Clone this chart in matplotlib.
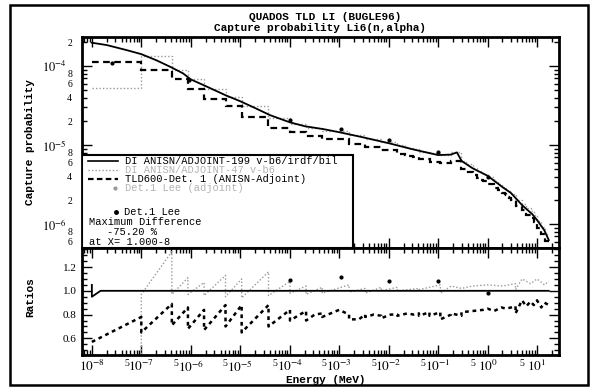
import numpy as np
import matplotlib
matplotlib.use("Agg")
import matplotlib.pyplot as plt
from matplotlib.patches import Rectangle
from matplotlib.ticker import LogLocator, FuncFormatter, MultipleLocator

plt.rcParams["mathtext.fontset"] = "stix"
MONO = "Liberation Mono"
SERIF = "Liberation Serif"

# ---------------------------------------------------------------------------
# Data
# ---------------------------------------------------------------------------

# BUGLE-96 group boundaries used on the plot (MeV)
GROUP_EDGES = [1.0e-8, 1.0e-7, 4.14e-7, 8.764e-7, 1.855e-6, 5.043e-6, 1.068e-5,
               3.727e-5, 1.013e-4, 2.144e-4, 4.540e-4, 1.585e-3, 3.355e-3,
               7.102e-3, 1.503e-2, 2.188e-2, 2.418e-2, 2.606e-2, 3.183e-2,
               4.087e-2, 6.738e-2, 0.1111, 0.1832, 0.2972, 0.3688, 0.4979,
               0.6081, 0.7427, 0.8209, 1.003, 1.353, 1.653, 1.920, 2.231, 2.346,
               2.365, 2.466, 2.725, 3.012, 3.679, 4.966, 6.065, 7.408, 8.607,
               10.0, 12.21, 14.19, 17.33]

# continuous response (solid)
SOLID_E = [1e-8, 2e-8, 5e-8, 1e-7, 2e-7, 4e-7, 7e-7, 1e-6, 2e-6, 5e-6, 1e-5,
           2e-5, 4e-5, 1e-4, 2e-4, 5e-4, 1e-3, 3e-3, 1e-2, 3e-2, 0.1, 0.18,
           0.24, 0.3, 0.5, 1.0, 2.0, 3.0, 5.0, 8.0, 10.0, 14.0, 17.3]
SOLID_P = [1.98e-4, 1.85e-4, 1.60e-4, 1.42e-4, 1.19e-4, 9.7e-5, 8.1e-5, 6.8e-5,
           5.6e-5, 4.3e-5, 3.6e-5, 2.95e-5, 2.4e-5, 1.95e-5, 1.74e-5, 1.59e-5,
           1.46e-5, 1.26e-5, 1.06e-5, 8.9e-6, 7.5e-6, 7.6e-6, 8.1e-6, 6.3e-6,
           5.1e-6, 4.1e-6, 2.95e-6, 2.47e-6, 1.74e-6, 1.34e-6, 1.13e-6, 8.4e-7,
           6.3e-7]

# TLD600-Det. 1 (ANISN-Adjoint), group-wise (black dashed)
TLD_GROUP = [1.12e-4, 8.9e-5, 6.8e-5, 5.1e-5, 3.8e-5, 3.1e-5, 2.25e-5, 1.67e-5,
             1.47e-5, 1.31e-5, 1.20e-5, 1.04e-5, 9.5e-6, 8.6e-6, 7.8e-6, 7.6e-6,
             7.5e-6, 7.3e-6, 7.1e-6, 6.6e-6, 6.2e-6, 5.9e-6, 6.4e-6, 5.0e-6,
             4.6e-6, 4.15e-6, 3.85e-6, 3.6e-6, 3.5e-6, 3.2e-6, 2.85e-6, 2.7e-6,
             2.5e-6, 2.38e-6, 2.36e-6, 2.33e-6, 2.23e-6, 2.15e-6, 2.0e-6,
             1.68e-6, 1.5e-6, 1.32e-6, 1.2e-6, 1.07e-6, 9.0e-7, 7.6e-7, 6.2e-7]

# second group-wise set (grey dotted)
GREY_GROUP = [5.3e-5, 1.33e-4, 9.0e-5, 6.9e-5, 5.2e-5, 4.05e-5, 3.1e-5, 2.2e-5,
              1.86e-5, 1.67e-5, 1.52e-5, 1.35e-5, 1.21e-5, 1.09e-5, 1.0e-5,
              9.6e-6, 9.4e-6, 9.3e-6, 8.9e-6, 8.3e-6, 7.85e-6, 7.6e-6, 8.1e-6,
              6.35e-6, 5.75e-6, 5.15e-6, 4.75e-6, 4.45e-6, 4.3e-6, 3.95e-6,
              3.52e-6, 3.27e-6, 3.0e-6, 2.88e-6, 2.85e-6, 2.82e-6, 2.7e-6,
              2.6e-6, 2.4e-6, 2.05e-6, 1.8e-6, 1.6e-6, 1.45e-6, 1.3e-6, 1.1e-6,
              9.2e-7, 7.6e-7]

# Det.1 Lee points
LEE_E = [2.5e-8, 9e-7, 1.0e-4, 1.1e-3, 1.0e-2, 0.1, 1.0]
LEE_P = [1.09e-4, 6.7e-5, 2.1e-5, 1.6e-5, 1.15e-5, 8.1e-6, 4.0e-6]
LEE_RATIO_E = [1.0e-4, 1.1e-3, 1.0e-2, 0.1, 1.0]
LEE_RATIO = [1.09, 1.12, 1.08, 1.08, 0.98]

# ratio TLD600 / continuous (black dashed, lower panel)
RATIO_TLD_E = [1e-8, 1e-7, 1e-7, 4.14e-7, 4.14e-7, 8.76e-7, 8.76e-7, 1.855e-6,
               1.855e-6, 5.04e-6, 5.04e-6, 1.068e-5, 1.068e-5, 3.727e-5,
               3.727e-5, 1.013e-4, 1.013e-4, 1.6e-4, 2.144e-4, 2.144e-4, 3.2e-4,
               4.54e-4, 4.54e-4, 1.0e-3, 1.585e-3, 1.585e-3, 2.5e-3, 3.355e-3,
               3.355e-3, 5e-3, 7.1e-3, 7.1e-3, 1.1e-2, 1.5e-2, 1.5e-2, 2.4e-2,
               3.2e-2, 4.1e-2, 4.1e-2, 6.7e-2, 6.7e-2, 0.111, 0.111, 0.183,
               0.183, 0.297, 0.297, 0.5, 0.82, 1.0, 1.35, 1.92, 2.35, 3.0, 3.68,
               3.68, 4.97, 6.07, 7.4, 8.6, 10.0, 12.2, 14.2, 17.3]
RATIO_TLD = [0.57, 0.78, 0.65, 0.89, 0.71, 0.86, 0.68, 0.84,
             0.67, 0.88, 0.70, 0.88, 0.65, 0.88,
             0.70, 0.84, 0.75, 0.80, 0.83, 0.75, 0.80,
             0.81, 0.78, 0.84, 0.80, 0.76, 0.76, 0.80,
             0.78, 0.80, 0.79, 0.77, 0.80, 0.80, 0.79, 0.81,
             0.80, 0.81, 0.79, 0.82, 0.79, 0.82, 0.76, 0.80,
             0.81, 0.79, 0.82, 0.83, 0.84, 0.85, 0.83, 0.86, 0.85, 0.86, 0.87,
             0.81, 0.92, 0.87, 0.91, 0.88, 0.92, 0.86, 0.90, 0.88]

# ratio grey set / continuous (grey dotted, lower panel)
RATIO_GREY_E = [1e-8, 1e-7, 1e-7, 4.14e-7, 4.14e-7, 8.76e-7, 8.76e-7, 1.855e-6,
                1.855e-6, 5.04e-6, 5.04e-6, 1.068e-5, 1.068e-5, 3.727e-5,
                3.727e-5, 1.013e-4, 1.013e-4, 2.144e-4, 2.144e-4, 4.54e-4,
                4.54e-4, 1.585e-3, 1.585e-3, 3.355e-3, 3.355e-3, 7.1e-3, 7.1e-3,
                1.5e-2, 1.5e-2, 4.1e-2, 4.1e-2, 0.111, 0.111, 0.183, 0.297,
                0.5, 1.0, 2.0, 3.68, 3.68, 5.0, 7.4, 10.0, 14.2, 17.3]
RATIO_GREY = [0.27, 0.37, 0.97, 1.33, 0.97, 1.11, 0.97, 1.07,
              0.96, 1.13, 0.95, 1.10, 0.94, 1.16,
              0.96, 1.08, 0.98, 1.04, 0.97, 1.03,
              0.98, 1.05, 0.99, 1.02, 0.98, 1.03, 1.00,
              1.03, 1.00, 1.02, 1.01, 1.05, 0.98, 1.04, 1.02,
              1.04, 1.05, 1.04, 1.06, 1.01, 1.10, 1.06, 1.10, 1.05, 1.08]

# ratio continuous / continuous (black solid at 1.0)
RATIO_REF_E = [1.0e-8, 1.0e-8, 1.5e-8, 17.3]
RATIO_REF = [1.05, 0.95, 1.0, 1.0]

LEGEND_ROWS = ["DI ANISN/ADJOINT-199 v-b6/irdf/bil",
               "DI ANISN/ADJOINT-47 v-b6",
               "TLD600-Det. 1 (ANISN-Adjoint)",
               "Det.1 Lee (adjoint)"]

X_RANGE = (6.3e-9, 28.0)


# ---------------------------------------------------------------------------
# Tick helpers
# ---------------------------------------------------------------------------

def decade_label(v, pos):
    return r"$10^{%d}$" % int(round(np.log10(v)))


def mantissa(v):
    return int(round(v / 10 ** np.floor(np.log10(v) + 1e-9)))


def x_minor_label(v, pos):
    if not X_RANGE[0] <= v <= X_RANGE[1]:
        return ""
    return "5" if mantissa(v) == 5 else ""


def y_minor_label(v, pos):
    m = mantissa(v)
    return str(m) if m in (2, 4, 6, 8) else ""


def style_axis(ax):
    for s in ax.spines.values():
        s.set_linewidth(2)
    ax.tick_params(which="both", direction="in", top=True, right=True, width=1)
    ax.tick_params(which="major", length=7)
    ax.tick_params(which="minor", length=3.5)


# ---------------------------------------------------------------------------
# Figure
# ---------------------------------------------------------------------------

fig = plt.figure(figsize=(5.98, 3.89), dpi=100)
fig.add_artist(Rectangle((0.0167, 0.0103), 0.966, 0.977, transform=fig.transFigure,
                         fill=False, lw=1.8, edgecolor="black"))

ax1 = fig.add_axes([0.137, 0.3625, 0.798, 0.542])
ax2 = fig.add_axes([0.137, 0.0874, 0.798, 0.275], sharex=ax1)

# upper panel
ax1.stairs(GREY_GROUP, GROUP_EDGES, baseline=None, color="0.6", lw=1.0, linestyle=(0, (1, 1.5)))
ax1.plot(SOLID_E, SOLID_P, color="black", lw=1.3)
ax1.stairs(TLD_GROUP, GROUP_EDGES, baseline=None, color="black", lw=1.6, linestyle=(0, (3, 2)))
ax1.plot(LEE_E, LEE_P, "o", color="black", ms=2)

ax1.set_xscale("log")
ax1.set_yscale("log")
ax1.set_xlim(*X_RANGE)
ax1.set_ylim(5.0e-7, 2.33e-4)
style_axis(ax1)
ax1.xaxis.set_major_locator(LogLocator(base=10, numticks=20))
ax1.xaxis.set_minor_locator(LogLocator(base=10, subs=range(2, 10), numticks=20))
ax1.yaxis.set_major_locator(LogLocator(base=10, numticks=20))
ax1.yaxis.set_minor_locator(LogLocator(base=10, subs=range(2, 10), numticks=20))
ax1.yaxis.set_major_formatter(FuncFormatter(decade_label))
ax1.yaxis.set_minor_formatter(FuncFormatter(y_minor_label))
ax1.tick_params(axis="y", which="major", pad=11, labelsize=9)
ax1.tick_params(axis="y", which="minor", pad=7, labelsize=7)
ax1.tick_params(axis="x", which="both", labelbottom=False)
for lab in ax1.get_yticklabels(which="both"):
    lab.set_fontfamily(SERIF)

# legend box drawn by hand, as on the original
ax1.add_patch(Rectangle((0, 0), 0.568, 0.44, transform=ax1.transAxes, facecolor="white",
                        edgecolor="black", lw=1.5, zorder=5))
rows_y = [0.412, 0.370, 0.327, 0.284]
ax1.plot([0.013, 0.075], [rows_y[0]] * 2, transform=ax1.transAxes, color="black", lw=1.2, zorder=6)
ax1.plot([0.013, 0.075], [rows_y[1]] * 2, transform=ax1.transAxes, color="0.6", lw=1.0,
         linestyle=(0, (1, 1.5)), zorder=6)
ax1.plot([0.013, 0.075], [rows_y[2]] * 2, transform=ax1.transAxes, color="black", lw=1.6,
         linestyle=(0, (2.5, 1.5)), zorder=6)
ax1.plot([0.07], [rows_y[3]], "o", transform=ax1.transAxes, color="0.6", ms=2, zorder=6)
for y, txt, col in zip(rows_y, LEGEND_ROWS, ["black", "0.7", "black", "0.7"]):
    ax1.text(0.09, y, txt, transform=ax1.transAxes, fontsize=7.5, family=MONO,
             color=col, va="center", zorder=6)
ax1.plot([0.072], [0.171], "o", transform=ax1.transAxes, color="black", ms=2.5, zorder=6)
ax1.text(0.088, 0.171, "Det.1 Lee", transform=ax1.transAxes, fontsize=7.5, family=MONO,
         va="center", zorder=6)
ax1.text(0.015, 0.123, "Maximum Difference", transform=ax1.transAxes, fontsize=7.5,
         family=MONO, va="center", zorder=6)
ax1.text(0.052, 0.076, "-75.20 %", transform=ax1.transAxes, fontsize=7.5, family=MONO,
         va="center", zorder=6)
ax1.text(0.015, 0.028, "at X= 1.000-8", transform=ax1.transAxes, fontsize=7.5, family=MONO,
         va="center", zorder=6)

# lower panel
ax2.plot(RATIO_GREY_E, RATIO_GREY, color="0.6", lw=1.0, linestyle=(0, (1, 1.5)))
ax2.plot(RATIO_REF_E, RATIO_REF, color="black", lw=1.3)
ax2.plot(RATIO_TLD_E, RATIO_TLD, color="black", lw=1.8, linestyle=(0, (1.5, 1.5)))
ax2.plot(LEE_RATIO_E, LEE_RATIO, "o", color="black", ms=2)
ax2.set_ylim(0.46, 1.36)
style_axis(ax2)
ax2.yaxis.set_major_locator(MultipleLocator(0.2))
ax2.yaxis.set_minor_locator(MultipleLocator(0.05))
ax2.yaxis.set_major_formatter(FuncFormatter(lambda v, p: f"{v:.1f}"))
ax2.xaxis.set_major_formatter(FuncFormatter(decade_label))
ax2.xaxis.set_minor_formatter(FuncFormatter(x_minor_label))
ax2.tick_params(axis="x", which="major", pad=3, labelsize=9.5)
ax2.tick_params(axis="x", which="minor", pad=3, labelsize=7)
ax2.tick_params(axis="y", which="major", pad=4, labelsize=8)
for lab in ax2.get_xticklabels(which="both") + ax2.get_yticklabels():
    lab.set_fontfamily(SERIF)

# titles and axis labels
fig.text(0.543, 0.956, "QUADOS TLD LI (BUGLE96)", ha="center", va="center",
         fontsize=8, family=MONO, weight="bold")
fig.text(0.535, 0.928, "Capture probability Li6(n,alpha)", ha="center", va="center",
         fontsize=8, family=MONO, weight="bold")
fig.text(0.05, 0.635, "Capture probability", rotation=90, ha="center", va="center",
         fontsize=8, family=MONO, weight="bold")
fig.text(0.05, 0.236, "Ratios", rotation=90, ha="center", va="center",
         fontsize=8, family=MONO, weight="bold")
fig.text(0.545, 0.022, "Energy (MeV)", ha="center", va="center", fontsize=8,
         family=MONO, weight="bold")

fig.savefig("out.png", dpi=100)
